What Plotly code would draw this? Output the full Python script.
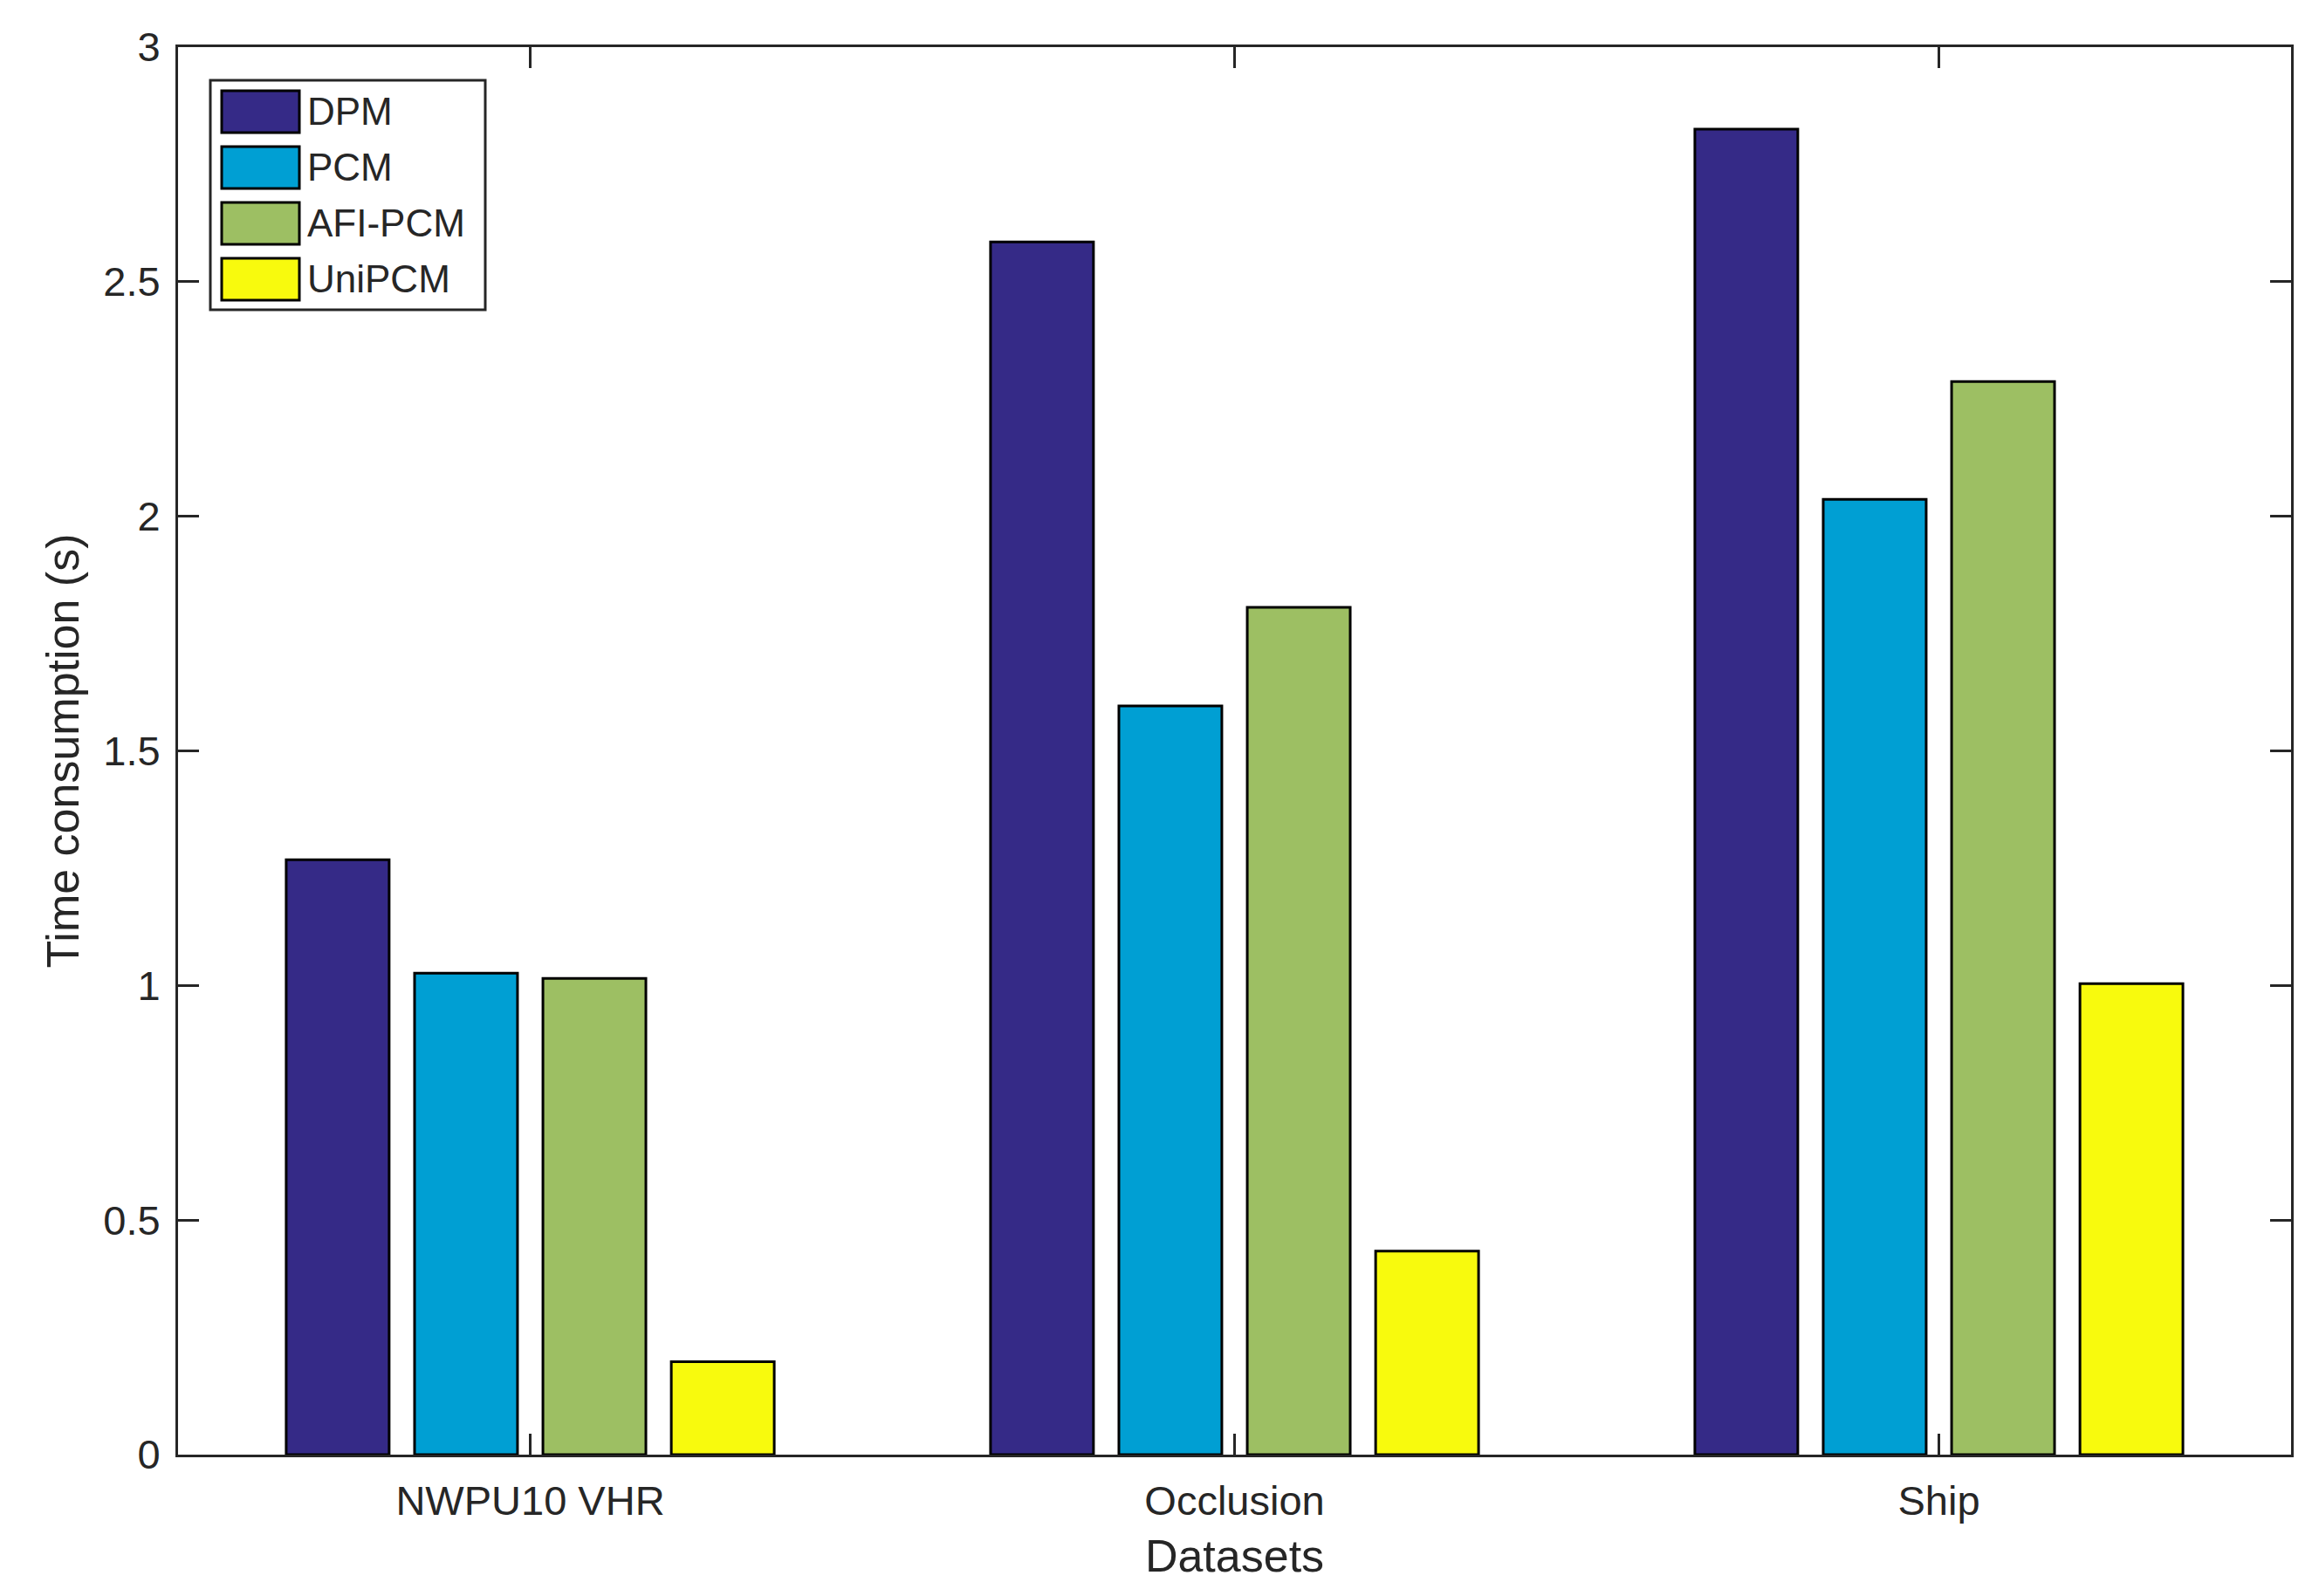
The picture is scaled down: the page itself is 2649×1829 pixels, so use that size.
import plotly.graph_objects as go

# ---- data ----
categories = ["NWPU10 VHR", "Occlusion", "Ship"]
series_names = ["DPM", "PCM", "AFI-PCM", "UniPCM"]
dpm = [1.268, 2.585, 2.825]
pcm = [1.026, 1.596, 2.036]
afi_pcm = [1.015, 1.806, 2.287]
unipcm = [0.198, 0.434, 1.004]
y_ticks = [0, 0.5, 1, 1.5, 2, 2.5, 3]
y_tick_labels = ["0", "0.5", "1", "1.5", "2", "2.5", "3"]

colors = ["#352A87", "#009FD3", "#9DBF63", "#F8FA0D"]
values = [dpm, pcm, afi_pcm, unipcm]

W, H = 2649, 1829
L, R, T, B = 196, 2617, 46, 1659   # plot area in pixels
FONT = "Liberation Sans, Arial, Helvetica, sans-serif"
TXT = "#262626"

x_pos = list(range(1, len(categories) + 1))

fig = go.Figure()
for name, vals, col in zip(series_names, values, colors):
    fig.add_trace(go.Bar(
        x=x_pos, y=vals, name=name,
        marker=dict(color=col, line=dict(color="#000000", width=3)),
        showlegend=False,
    ))

axis_common = dict(
    showline=True, linecolor=TXT, linewidth=3, mirror="ticks",
    ticks="inside", ticklen=24, tickwidth=3, tickcolor=TXT,
    showgrid=False, zeroline=False,
    tickfont=dict(family=FONT, size=47, color=TXT),
)

fig.update_layout(
    width=W, height=H,
    margin=dict(l=L, r=W - R, t=T, b=H - B, autoexpand=False),
    paper_bgcolor="white", plot_bgcolor="white",
    barmode="group", bargap=0.271, bargroupgap=0.198,
    font=dict(family=FONT, color=TXT),
    xaxis=dict(
        range=[0.5, 3.5], tickmode="array", tickvals=x_pos, ticktext=categories,
        title=dict(text="Datasets", font=dict(family=FONT, size=52, color=TXT), standoff=20),
        ticklabelstandoff=10,
        **axis_common,
    ),
    yaxis=dict(
        range=[0, 3], tickmode="array", tickvals=y_ticks, ticktext=y_tick_labels,
        title=dict(text="Time consumption (s)", font=dict(family=FONT, size=52, color=TXT), standoff=12),
        ticklabelstandoff=8,
        **axis_common,
    ),
)

# ---- custom legend (MATLAB-style box with large swatches) ----
def px_x(p):
    return (p - L) / (R - L)

def px_y(p):
    return (B - p) / (B - T)

box = dict(x0=233, x1=548, y0=84, y1=347)
fig.add_shape(type="rect", xref="paper", yref="paper",
              x0=px_x(box["x0"]), x1=px_x(box["x1"]),
              y0=px_y(box["y1"]), y1=px_y(box["y0"]),
              line=dict(color=TXT, width=3), fillcolor="white", layer="above")
row0, pitch, sw_h = 96, 64, 48
for i, (name, col) in enumerate(zip(series_names, colors)):
    top = row0 + i * pitch
    fig.add_shape(type="rect", xref="paper", yref="paper",
                  x0=px_x(246), x1=px_x(335),
                  y0=px_y(top + sw_h), y1=px_y(top),
                  line=dict(color="#000000", width=3), fillcolor=col, layer="above")
    fig.add_annotation(xref="paper", yref="paper",
                       x=px_x(342), y=px_y(top + sw_h / 2),
                       xanchor="left", yanchor="middle", showarrow=False,
                       text=name, font=dict(family=FONT, size=44, color=TXT))

fig.write_html("out.html")
